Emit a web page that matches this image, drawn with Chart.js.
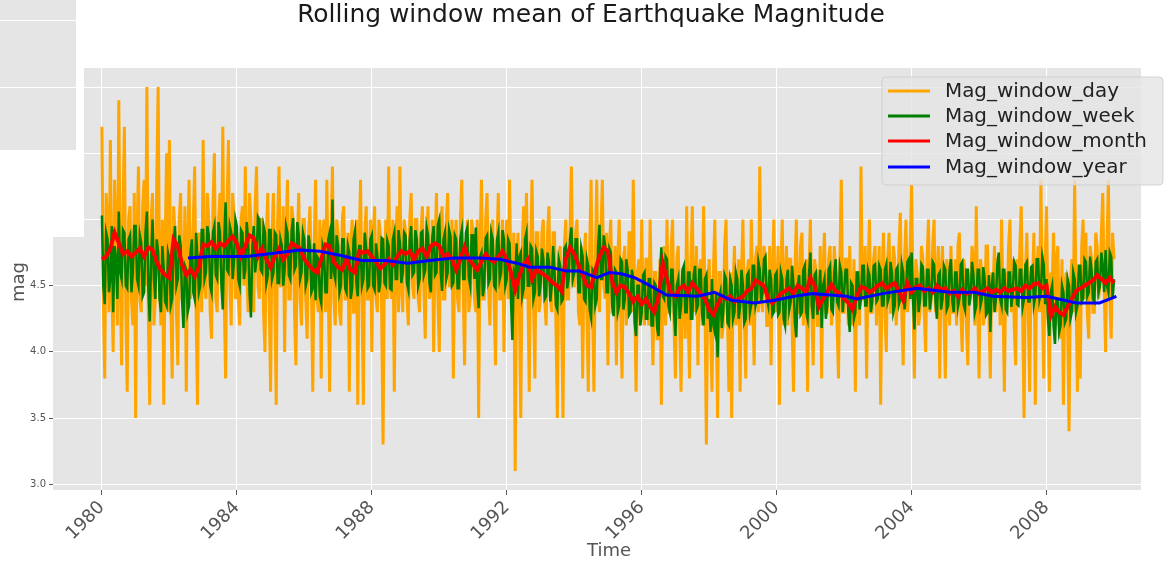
<!DOCTYPE html>
<html>
<head>
<meta charset="utf-8">
<script src="https://cdn.jsdelivr.net/npm/chart.js@4.4.1/dist/chart.umd.min.js"></script>
<style>
html,body{margin:0;padding:0;background:#fff;}
#c{display:block;}
</style>
</head>
<body>
<canvas id="c" width="1169" height="564"></canvas>
<script>
// ---------- DATA ----------
const titleText = "Rolling window mean of Earthquake Magnitude";
const xTitle = "Time";
const yTitle = "mag";
const seriesNames = ["Mag_window_day", "Mag_window_week", "Mag_window_month", "Mag_window_year"];
const xTicks = [1980, 1984, 1988, 1992, 1996, 2000, 2004, 2008];
const xTickLabels = ["1980", "1984", "1988", "1992", "1996", "2000", "2004", "2008"];
const yTicks = [3.0, 3.5, 4.0, 4.5, 5.0, 5.5, 6.0];

// day window: 24 samples per year starting 1980.0
const dayStart = 1980, dayPerYear = 24;
const magDay = [
 5.7,4.4,3.8,5.2,5.0,4.3,5.6,4.5,4.0,5.3,4.9,4.2,5.9,4.6,3.9,5.1,5.7,4.3,3.7,5.0,5.1,4.4,4.2,5.2,
 3.5,4.9,5.4,4.4,4.3,5.1,5.3,4.5,6.0,4.3,3.6,5.0,5.2,4.2,4.4,5.3,6.0,4.5,4.2,5.0,3.6,4.8,5.5,4.3,
 5.6,4.4,3.8,5.1,4.9,4.3,3.9,5.0,5.2,4.4,4.3,5.1,3.7,4.8,5.3,4.4,4.6,5.0,5.4,4.3,3.6,4.9,4.8,4.3,
 5.6,4.5,4.4,5.2,5.0,4.3,4.1,5.1,5.5,4.4,4.3,5.0,5.2,4.6,5.7,4.4,3.8,5.1,5.6,4.5,4.2,5.2,5.0,4.4,
 4.9,4.4,4.2,5.0,5.1,4.5,5.4,4.6,4.3,5.2,5.0,4.4,4.3,5.1,5.4,4.5,4.4,5.0,5.0,4.3,4.0,4.9,5.2,4.4,
 3.7,4.9,5.2,4.4,3.6,5.0,5.4,4.5,4.5,5.1,4.0,4.9,5.3,4.4,4.4,5.1,5.0,4.3,3.9,4.8,5.2,4.4,4.2,5.0,
 5.0,4.4,4.1,4.9,5.1,4.5,3.7,4.8,5.3,4.4,4.3,5.0,3.8,4.9,5.0,4.3,5.3,4.5,3.7,4.9,5.4,4.4,4.2,5.0,
 4.9,4.3,4.2,5.0,5.1,4.4,4.4,4.9,3.7,4.8,5.0,4.3,4.3,5.0,3.6,4.8,5.3,4.4,3.6,4.9,5.1,4.4,4.4,5.0,
 4.0,4.9,5.1,4.4,4.3,5.0,4.9,4.3,3.3,4.7,5.0,4.4,5.4,4.5,4.4,5.0,3.7,4.8,5.1,4.3,5.4,4.5,4.3,5.0,
 4.9,4.4,4.2,5.0,5.2,4.5,4.4,5.0,5.0,4.4,4.3,4.9,5.1,4.5,4.1,4.9,5.1,4.4,4.5,5.0,4.0,4.8,5.2,4.4,
 4.0,4.9,5.1,4.4,4.4,5.0,5.2,4.5,4.5,5.0,3.8,4.8,5.0,4.4,4.3,5.0,5.3,4.5,3.9,4.8,5.0,4.3,4.4,5.0,
 4.9,4.4,4.3,5.0,3.5,4.8,5.3,4.4,4.4,5.0,5.2,4.5,4.2,4.9,5.0,4.4,3.9,4.8,5.2,4.4,4.4,5.0,4.0,4.8,
 5.0,4.4,5.3,4.5,4.4,4.9,3.1,4.6,4.9,4.3,3.5,4.8,5.1,4.4,5.2,4.5,3.7,4.8,5.3,4.4,3.8,4.9,4.9,4.3,
 4.4,4.9,5.0,4.4,4.2,4.9,5.1,4.4,4.3,4.9,4.9,4.2,3.5,4.7,4.8,4.3,3.5,4.8,5.0,4.4,4.4,4.9,5.4,4.5,
 4.5,4.9,5.0,4.3,4.2,4.8,3.8,4.7,4.9,4.3,3.7,4.8,5.3,4.4,3.7,4.7,5.3,4.4,4.3,4.9,5.3,4.5,4.4,4.9,
 3.9,4.8,5.0,4.3,4.3,4.8,3.9,4.7,5.0,4.3,3.8,4.7,4.8,4.2,4.4,4.9,4.9,4.3,5.3,4.4,3.7,4.6,4.7,4.2,
 5.0,4.3,4.2,4.7,4.7,4.2,5.0,4.4,3.9,4.6,4.6,4.1,4.1,4.7,3.6,4.5,4.8,4.2,5.0,4.3,4.3,4.8,5.0,4.2,
 3.8,4.7,4.8,4.2,3.7,4.6,4.6,4.1,5.1,4.3,3.8,4.7,5.1,4.4,4.3,4.8,3.9,4.6,4.7,4.2,5.1,4.4,3.3,4.5,
 4.7,4.2,3.7,4.6,5.0,4.3,3.5,4.6,4.6,4.1,4.2,4.8,5.0,4.3,3.7,4.6,3.5,4.5,4.8,4.2,4.3,4.7,3.7,4.6,
 5.0,4.3,3.8,4.6,4.7,4.2,5.0,4.4,3.9,4.7,4.8,4.3,5.4,4.4,4.3,4.8,4.7,4.2,4.2,4.8,3.9,4.6,5.0,4.3,
 4.4,4.8,3.6,4.6,5.0,4.2,4.5,4.8,4.2,4.7,4.7,4.2,3.7,4.6,5.0,4.3,4.3,4.8,4.9,4.2,4.5,4.7,3.7,4.6,
 5.0,4.3,3.9,4.7,4.6,4.2,4.2,4.8,3.8,4.6,4.9,4.3,4.3,4.7,4.8,4.2,4.4,4.8,4.6,4.2,3.8,4.7,5.3,4.3,
 4.3,4.7,4.7,4.2,4.8,4.3,4.2,4.7,3.7,4.6,4.6,4.2,5.4,4.4,4.4,4.8,3.8,4.6,5.0,4.3,4.3,4.7,4.8,4.2,
 4.5,4.8,3.6,4.6,4.9,4.3,4.0,4.7,4.9,4.3,4.3,4.8,4.7,4.2,4.4,4.8,5.05,4.3,3.9,4.7,5.0,4.3,4.4,4.8,
 5.26,4.4,3.8,4.7,4.6,4.2,4.3,4.8,4.7,4.3,4.0,4.7,5.0,4.3,4.4,4.8,5.0,4.3,4.5,4.8,3.8,4.6,4.8,4.3,
 3.8,4.7,4.6,4.2,4.8,4.3,4.3,4.7,4.2,4.8,4.9,4.3,4.0,4.7,4.6,4.2,3.9,4.6,4.5,4.8,4.7,4.2,5.1,4.4,
 3.8,4.7,4.6,4.2,4.3,4.8,4.8,4.3,3.8,4.6,4.5,4.8,4.3,4.7,4.7,4.2,5.0,4.4,3.7,4.6,4.4,4.8,5.0,4.3,
 4.7,4.2,3.9,4.7,4.4,4.8,5.1,4.3,3.5,4.6,4.9,4.3,3.7,4.6,4.5,4.9,3.6,4.6,4.8,4.3,5.3,4.4,3.8,4.7,
 5.1,4.3,3.7,4.6,4.5,4.9,4.2,4.7,4.8,4.2,4.1,4.7,3.6,4.5,4.6,4.2,3.4,4.5,4.7,4.3,5.3,4.4,3.7,4.6,
 3.8,4.8,5.0,4.4,4.9,4.3,4.1,4.8,4.7,4.3,4.3,4.9,4.8,4.4,4.5,4.9,5.2,4.5,4.0,4.8,5.3,4.4,4.1,4.9,
 4.7
];

// week window: 24 samples per year starting 1980.0
const weekStart = 1980, weekPerYear = 24;
const magWeek = [
 5.03,4.50,4.36,4.90,4.85,4.45,4.55,4.95,4.30,4.80,4.70,4.40,5.06,4.60,4.55,4.92,4.90,4.50,4.48,4.85,4.88,4.45,4.60,4.95,
 4.95,4.55,4.50,4.88,4.82,4.42,4.45,4.90,5.06,4.50,4.23,4.70,5.00,4.55,4.40,4.85,4.75,4.40,4.30,4.80,4.62,4.38,4.35,4.75,
 4.70,4.35,4.40,4.82,4.95,4.50,4.55,4.88,4.80,4.40,4.18,4.65,4.62,4.30,4.35,4.75,4.85,4.45,4.40,4.90,4.70,4.45,4.50,4.92,
 4.92,4.55,4.60,4.95,4.88,4.50,4.45,4.90,4.95,4.58,4.55,4.98,4.90,4.50,4.32,4.85,5.13,4.62,4.60,4.95,4.90,4.55,4.70,5.00,
 4.95,4.55,4.50,4.92,4.90,4.55,4.62,4.98,4.85,4.45,4.26,4.80,4.95,4.60,4.70,5.02,5.00,4.62,4.60,4.95,4.90,4.52,4.58,4.92,
 4.92,4.55,4.60,4.90,4.88,4.52,4.52,4.85,4.80,4.50,4.62,4.95,4.90,4.58,4.55,4.92,5.01,4.62,4.65,4.98,4.88,4.55,4.60,4.90,
 4.85,4.50,4.55,4.88,4.80,4.45,4.48,4.82,4.39,4.72,4.70,4.42,4.37,4.80,4.75,4.45,4.45,4.85,4.90,4.55,5.15,4.60,4.55,4.88,
 4.80,4.45,4.50,4.85,4.85,4.48,4.45,4.80,4.75,4.40,4.48,4.85,4.91,4.52,4.42,4.80,4.80,4.50,4.55,4.90,4.78,4.48,4.50,4.85,
 4.88,4.50,4.47,4.82,4.72,4.45,4.52,4.86,4.85,4.52,4.50,4.84,4.80,4.48,4.47,4.85,4.90,4.55,4.55,4.92,4.82,4.52,4.60,4.90,
 4.88,4.52,4.47,4.85,4.95,4.58,4.60,4.92,4.85,4.50,4.55,4.90,4.91,4.58,4.62,4.94,4.88,4.52,4.45,4.86,4.95,4.58,4.60,4.96,
 5.00,4.60,4.46,4.85,4.90,4.55,4.60,4.92,4.87,4.50,4.52,4.88,4.85,4.48,4.48,4.86,4.92,4.55,4.55,4.90,4.94,4.56,4.50,4.88,
 4.88,4.55,4.94,4.50,4.33,4.72,4.75,4.42,4.50,4.86,4.88,4.52,4.55,4.90,4.85,4.50,4.48,4.84,4.90,4.55,4.60,4.92,4.85,4.50,
 4.55,4.85,4.82,4.40,4.09,4.60,4.55,4.82,4.40,4.72,4.75,4.42,4.48,4.85,4.90,4.50,4.50,4.80,4.78,4.40,4.45,4.76,4.72,4.42,
 4.50,4.78,4.70,4.40,4.42,4.75,4.68,4.38,4.50,4.80,4.60,4.35,4.32,4.70,4.65,4.38,4.40,4.78,4.80,4.48,4.55,4.85,4.94,4.55,
 4.60,4.85,4.85,4.45,4.45,4.78,4.72,4.40,4.38,4.70,4.65,4.32,4.26,4.62,4.60,4.35,4.40,4.80,4.96,4.55,4.55,4.88,4.80,4.45,
 4.45,4.78,4.75,4.35,4.27,4.62,4.60,4.30,4.35,4.70,4.68,4.32,4.40,4.70,4.62,4.28,4.30,4.62,4.55,4.22,4.12,4.50,4.50,4.20,
 4.30,4.58,4.60,4.25,4.25,4.55,4.55,4.20,4.20,4.52,4.50,4.18,4.12,4.60,4.79,4.42,4.40,4.72,4.70,4.35,4.30,4.62,4.62,4.30,
 4.12,4.50,4.55,4.25,4.35,4.62,4.65,4.30,4.30,4.60,4.60,4.25,4.25,4.58,4.65,4.32,4.35,4.62,4.62,4.28,4.20,4.55,4.58,4.25,
 4.40,4.15,4.55,4.20,4.15,4.45,3.96,4.40,4.45,4.18,4.30,4.58,4.55,4.22,4.20,4.55,4.50,4.25,4.30,4.60,4.55,4.25,4.35,4.62,
 4.50,4.22,4.25,4.58,4.60,4.30,4.36,4.65,4.65,4.35,4.40,4.68,4.62,4.38,4.45,4.70,4.72,4.40,4.35,4.62,4.55,4.28,4.30,4.58,
 4.60,4.28,4.30,4.60,4.55,4.25,4.20,4.55,4.62,4.32,4.38,4.65,4.50,4.22,4.11,4.50,4.58,4.28,4.30,4.62,4.65,4.30,4.25,4.58,
 4.75,4.35,4.25,4.58,4.60,4.28,4.40,4.62,4.18,4.50,4.55,4.25,4.35,4.62,4.65,4.32,4.30,4.60,4.70,4.38,4.35,4.65,4.60,4.30,
 4.45,4.62,4.62,4.30,4.15,4.52,4.50,4.25,4.30,4.60,4.60,4.32,4.40,4.65,4.65,4.35,4.35,4.62,4.58,4.30,4.38,4.65,4.66,4.38,
 4.40,4.65,4.62,4.35,4.35,4.62,4.66,4.38,4.42,4.68,4.60,4.30,4.35,4.62,4.64,4.36,4.40,4.66,4.60,4.32,4.45,4.68,4.70,4.40,
 4.75,4.40,4.17,4.55,4.55,4.30,4.40,4.66,4.64,4.35,4.35,4.62,4.62,4.32,4.42,4.68,4.66,4.38,4.25,4.58,4.60,4.32,4.40,4.65,
 4.62,4.32,4.35,4.62,4.70,4.38,4.30,4.60,4.60,4.34,4.40,4.66,4.68,4.36,4.32,4.62,4.62,4.35,4.42,4.68,4.58,4.30,4.35,4.62,
 4.62,4.35,4.40,4.64,4.55,4.28,4.30,4.58,4.15,4.50,4.60,4.30,4.40,4.66,4.75,4.40,4.35,4.62,4.62,4.32,4.30,4.60,4.60,4.34,
 4.45,4.68,4.65,4.36,4.35,4.62,4.62,4.34,4.40,4.66,4.68,4.38,4.38,4.64,4.65,4.36,4.42,4.70,4.70,4.40,4.45,4.72,4.66,4.36,
 4.55,4.25,4.12,4.45,4.50,4.20,4.06,4.40,4.40,4.15,4.20,4.50,4.45,4.22,4.25,4.55,4.50,4.25,4.30,4.60,4.55,4.30,4.35,4.65,
 4.65,4.38,4.40,4.70,4.68,4.42,4.45,4.72,4.62,4.40,4.38,4.68,4.70,4.45,4.50,4.75,4.65,4.45,4.77,4.50,4.45,4.75,4.72,4.40,
 4.55
];

// month window: 8 samples per year starting 1980.0
const monthStart = 1980, monthPerYear = 8;
const magMonth = [
 4.70,4.72,4.78,4.90,4.82,4.74,4.76,4.72,
 4.75,4.78,4.72,4.79,4.77,4.68,4.62,4.58,
 4.56,4.85,4.80,4.66,4.58,4.62,4.57,4.64,
 4.81,4.80,4.83,4.78,4.82,4.80,4.84,4.87,
 4.82,4.72,4.80,4.88,4.86,4.72,4.78,4.70,
 4.64,4.72,4.78,4.70,4.74,4.82,4.80,4.78,
 4.70,4.66,4.62,4.60,4.70,4.81,4.80,4.68,
 4.64,4.62,4.70,4.62,4.60,4.76,4.75,4.76,
 4.72,4.68,4.63,4.66,4.70,4.66,4.72,4.76,
 4.74,4.76,4.70,4.76,4.78,4.72,4.80,4.82,
 4.80,4.72,4.74,4.70,4.62,4.70,4.79,4.70,
 4.66,4.62,4.68,4.74,4.70,4.68,4.72,4.76,
 4.70,4.60,4.47,4.58,4.66,4.70,4.55,4.62,
 4.60,4.58,4.55,4.52,4.50,4.46,4.70,4.79,
 4.74,4.66,4.58,4.50,4.49,4.62,4.72,4.79,
 4.76,4.53,4.45,4.50,4.49,4.44,4.38,4.42,
 4.36,4.40,4.34,4.30,4.42,4.67,4.55,4.44,
 4.42,4.48,4.50,4.45,4.52,4.48,4.44,4.40,
 4.32,4.28,4.36,4.42,4.40,4.42,4.38,4.40,
 4.42,4.46,4.48,4.54,4.52,4.50,4.40,4.37,
 4.40,4.44,4.46,4.48,4.44,4.50,4.48,4.45,
 4.56,4.50,4.34,4.40,4.45,4.51,4.46,4.44,
 4.40,4.37,4.32,4.42,4.49,4.48,4.45,4.47,
 4.50,4.52,4.48,4.50,4.52,4.46,4.39,4.52,
 4.45,4.49,4.50,4.46,4.48,4.45,4.50,4.47,
 4.48,4.44,4.46,4.42,4.47,4.44,4.45,4.48,
 4.44,4.46,4.48,4.45,4.47,4.45,4.48,4.46,
 4.47,4.48,4.46,4.50,4.48,4.51,4.52,4.48,
 4.50,4.27,4.34,4.30,4.28,4.34,4.40,4.46,
 4.48,4.50,4.52,4.54,4.58,4.55,4.52,4.56,
 4.52
];

// year window: irregular sample times
const yearTimes = [1982.55,1983.2,1984.3,1984.9,1985.87,1986.46,1987.05,1987.7,1988.39,1989.07,1989.72,1990.46,1991.2,1991.79,1992.3,1992.68,1993.27,1993.78,1994.16,1994.67,1995.05,1995.4,1995.79,1996.18,1996.74,1997.66,1998.16,1998.67,1999.35,1999.94,2000.53,2001.07,2002.07,2002.37,2003.14,2004.15,2005.13,2005.87,2006.4,2007.4,2008.0,2008.89,2009.57,2010.07];
const magYear = [4.71,4.72,4.72,4.74,4.77,4.76,4.73,4.69,4.69,4.67,4.69,4.71,4.71,4.70,4.67,4.64,4.64,4.61,4.61,4.56,4.60,4.59,4.56,4.51,4.43,4.42,4.45,4.39,4.37,4.39,4.42,4.44,4.42,4.40,4.44,4.48,4.45,4.45,4.42,4.41,4.42,4.37,4.37,4.42];

const colors = ["#FFA500", "#008000", "#FF0000", "#0000FF"];

// ---------- BUILD ----------
function regular(vals, start, perYear){ return vals.map((v,i)=>({x:start + i/perYear, y:v})); }
const dsDay = regular(magDay, dayStart, dayPerYear);
const dsWeek = regular(magWeek, weekStart, weekPerYear);
const dsMonth = regular(magMonth, monthStart, monthPerYear);
const dsYear = yearTimes.map((t,i)=>({x:t, y:magYear[i]}));

const BG = "#E5E5E5";
const FONT = "'DejaVu Sans', sans-serif";

const deco = {
  id: 'deco',
  beforeDraw(chart){
    const {ctx, chartArea:a} = chart;
    ctx.save();
    ctx.fillStyle = '#fff';
    ctx.fillRect(0,0,chart.width,chart.height);
    ctx.fillStyle = BG;
    ctx.fillRect(a.left, a.top, a.right-a.left, a.bottom-a.top);
    ctx.restore();
  },
  afterDraw(chart){
    const {ctx} = chart;
    ctx.save();
    // title
    ctx.fillStyle = '#1a1a1a';
    let fs = 21;
    ctx.font = fs + "px " + FONT;
    const w = ctx.measureText(titleText).width;
    fs = fs * 588 / w;
    ctx.font = fs.toFixed(2) + "px " + FONT;
    ctx.textAlign = 'center';
    ctx.textBaseline = 'alphabetic';
    ctx.fillText(titleText, 591, 22);
    // x title
    ctx.fillStyle = '#555';
    ctx.font = "18px " + FONT;
    ctx.fillText(xTitle, 609, 556);
    // y title
    ctx.save();
    ctx.translate(24, 282);
    ctx.rotate(-Math.PI/2);
    ctx.textAlign = 'center';
    ctx.fillText(yTitle, 0, 0);
    ctx.restore();
    // screenshot artefacts at top-left
    ctx.fillStyle = '#fff';
    ctx.fillRect(0, 0, 84, 237);
    ctx.fillStyle = BG;
    ctx.fillRect(0, 0, 76, 150);
    ctx.strokeStyle = '#fff';
    ctx.lineWidth = 1;
    ctx.beginPath();
    ctx.moveTo(0, 20.5); ctx.lineTo(76, 20.5);
    ctx.moveTo(0, 87.5); ctx.lineTo(76, 87.5);
    ctx.stroke();
    // legend
    const lx = 882, ly = 77, lw = 281, lh = 108, r = 4;
    ctx.beginPath();
    ctx.moveTo(lx+r, ly); ctx.lineTo(lx+lw-r, ly); ctx.quadraticCurveTo(lx+lw, ly, lx+lw, ly+r);
    ctx.lineTo(lx+lw, ly+lh-r); ctx.quadraticCurveTo(lx+lw, ly+lh, lx+lw-r, ly+lh);
    ctx.lineTo(lx+r, ly+lh); ctx.quadraticCurveTo(lx, ly+lh, lx, ly+lh-r);
    ctx.lineTo(lx, ly+r); ctx.quadraticCurveTo(lx, ly, lx+r, ly);
    ctx.closePath();
    ctx.fillStyle = 'rgba(229,229,229,0.8)';
    ctx.fill();
    ctx.strokeStyle = 'rgba(204,204,204,0.8)';
    ctx.lineWidth = 1;
    ctx.stroke();
    const rows = [91, 116, 141, 167];
    let lf = 20;
    ctx.font = lf + "px " + FONT;
    const lwMeasured = ctx.measureText(seriesNames[2]).width;
    lf = lf * 202 / lwMeasured;
    ctx.font = lf.toFixed(2) + "px " + FONT;
    ctx.textAlign = 'left';
    ctx.textBaseline = 'middle';
    seriesNames.forEach((n,i)=>{
      ctx.strokeStyle = colors[i];
      ctx.lineWidth = 3;
      ctx.beginPath();
      ctx.moveTo(888, rows[i]); ctx.lineTo(930, rows[i]);
      ctx.stroke();
      ctx.fillStyle = '#222';
      ctx.fillText(n, 945, rows[i]+1);
    });
    ctx.restore();
  }
};

const mkDs = (label, data, color, width, order) => ({
  label, data, borderColor: color, backgroundColor: color, order,
  borderWidth: width, pointRadius: 0, tension: 0, fill: false,
  borderJoinStyle: 'miter', borderCapStyle: 'butt'
});

new Chart(document.getElementById('c'), {
  type: 'line',
  data: {
    datasets: [
      mkDs(seriesNames[0], dsDay, colors[0], 3, 4),
      mkDs(seriesNames[1], dsWeek, colors[1], 2.5, 3),
      mkDs(seriesNames[2], dsMonth, colors[2], 4, 2),
      mkDs(seriesNames[3], dsYear, colors[3], 3, 1)
    ]
  },
  options: {
    responsive: false,
    animation: false,
    devicePixelRatio: 1,
    parsing: false,
    normalized: true,
    layout: { padding: { left: 0, top: 68, right: 28, bottom: 0 } },
    plugins: { legend: { display: false }, title: { display: false }, tooltip: { enabled: false } },
    scales: {
      x: {
        type: 'linear',
        min: 1978.55, max: 2010.8,
        afterFit(s){ s.height = 74; },
        afterBuildTicks(s){ s.ticks = xTicks.map(v=>({value:v})); },
        ticks: {
          autoSkip: false, minRotation: 45, maxRotation: 45,
          color: '#555', font: { size: 18, family: FONT }, padding: 2,
          callback: (v) => { const i = xTicks.indexOf(v); return i >= 0 ? xTickLabels[i] : ''; }
        },
        grid: { color: '#fff', lineWidth: 1, drawTicks: true, tickLength: 5, tickColor: '#555' },
        border: { display: false }
      },
      y: {
        type: 'linear',
        min: 2.957, max: 6.144,
        afterFit(s){ s.width = 53; },
        afterBuildTicks(s){ s.ticks = yTicks.map(v=>({value:v})); },
        ticks: {
          color: '#555', font: { size: 10, family: FONT }, padding: 3,
          callback: (v) => Number(v).toFixed(1)
        },
        grid: { color: '#fff', lineWidth: 1, drawTicks: true, tickLength: 4, tickColor: '#555' },
        border: { display: false }
      }
    }
  },
  plugins: [deco]
});
</script>
</body>
</html>
